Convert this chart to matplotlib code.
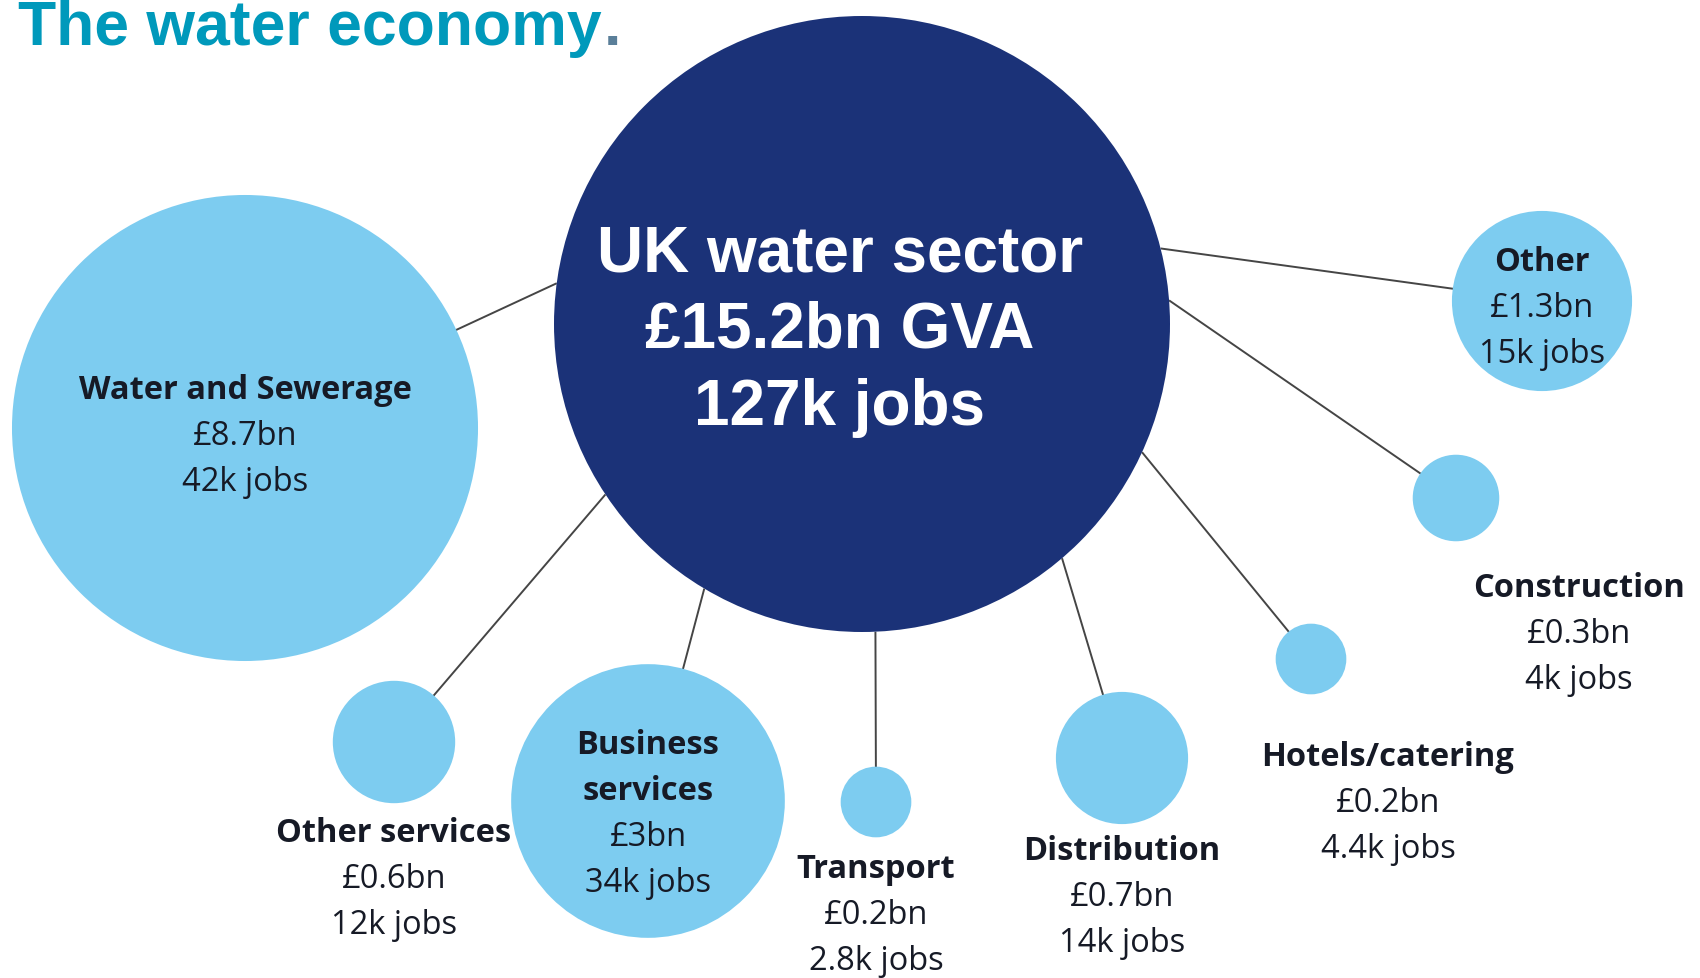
import numpy as np
import matplotlib
matplotlib.use("Agg")
import matplotlib.pyplot as plt
from matplotlib.patches import Circle

# Data
total_gva = 15.2
total_jobs = "127k"
sectors = ["Water and Sewerage", "Other services", "Business\nservices", "Transport",
           "Distribution", "Hotels/catering", "Construction", "Other"]
gva_bn = [8.7, 0.6, 3, 0.2, 0.7, 0.2, 0.3, 1.3]
jobs = ["42k", "12k", "34k", "2.8k", "14k", "4.4k", "4k", "15k"]

# Layout (pixel space, y down)
W, H = 1700, 979
hub_xy = (862, 325)
sat_xy = [(245, 429), (394, 743), (648, 802), (876, 803),
          (1122, 759), (1311, 660), (1456, 499), (1542, 302)]
link_angle = [187.6, 146.4, 120.8, 87.5, 49.5, 24.6, -4.4, -14.2]  # where the link leaves the hub
label_xy = [(245, 391), (394, 834), (648, 746), (876, 870),
            (1122, 852), (1388, 758), (1579, 589), (1542, 263)]
line_step = 46
k = 79.0  # radius = k * sqrt(GVA), area proportional to GVA

NAVY = "#1b3278"
LIGHT = "#7dccf0"
TEXT = "#161a26"
TEAL = "#0099bb"
LFS = 23.5

fig = plt.figure(figsize=(W / 100, H / 100), dpi=100)
ax = fig.add_axes([0, 0, 1, 1])
ax.set_xlim(0, W)
ax.set_ylim(H, 0)
ax.set_aspect("equal")
ax.axis("off")

# hub
hub_r = k * np.sqrt(total_gva)
ax.add_patch(Circle(hub_xy, hub_r, color=NAVY, zorder=3, lw=0))

# links + satellites
for i, name in enumerate(sectors):
    a = np.deg2rad(link_angle[i])
    x0 = hub_xy[0] + hub_r * np.cos(a)
    y0 = hub_xy[1] + hub_r * np.sin(a)
    cx, cy = sat_xy[i]
    ax.plot([x0, cx], [y0, cy], color="#454545", lw=1.4, zorder=1, solid_capstyle="butt")
    ax.add_patch(Circle((cx, cy), k * np.sqrt(gva_bn[i]), color=LIGHT, zorder=2, lw=0))

    # label: bold name, then value and jobs
    lx, ly = label_xy[i]
    lines = name.split("\n")
    for j, ln in enumerate(lines):
        ax.text(lx, ly + j * line_step, ln, ha="center", va="center", fontsize=LFS,
                fontweight="bold", family="Open Sans", color=TEXT, zorder=5)
    n = len(lines)
    val = f"£{gva_bn[i]:g}bn"
    ax.text(lx, ly + n * line_step, val, ha="center", va="center", fontsize=LFS,
            family="Open Sans", color=TEXT, zorder=5)
    ax.text(lx, ly + (n + 1) * line_step, f"{jobs[i]} jobs", ha="center", va="center",
            fontsize=LFS, family="Open Sans", color=TEXT, zorder=5)

# hub text
hub_lines = ["UK water sector", f"£{total_gva}bn GVA", f"{total_jobs} jobs"]
for j, t in enumerate(hub_lines):
    ax.text(hub_xy[0] - 22, 254 + j * 77, t, ha="center", va="center", fontsize=46,
            fontweight="bold", family="Liberation Sans", color="white", zorder=5)

# title, with the full stop set right after it
title = ax.text(18, 45, "The water economy", ha="left", va="baseline", fontsize=45,
                fontweight="bold", family="Liberation Sans", color=TEAL, zorder=6)
fig.canvas.draw()
bb = title.get_window_extent().transformed(ax.transData.inverted())
ax.text(bb.x1 + 2, 45, ".", ha="left", va="baseline", fontsize=45,
        fontweight="bold", family="Liberation Sans", color="#5a7f99", zorder=6)

fig.savefig("out.png", dpi=100, facecolor="white")
